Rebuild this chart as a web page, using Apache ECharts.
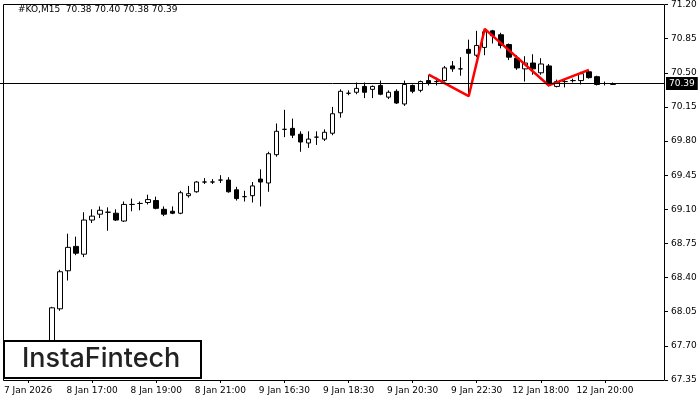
<!DOCTYPE html>
<html><head><meta charset="utf-8">
<script src="https://cdn.jsdelivr.net/npm/echarts@6/dist/echarts.min.js"></script>
<style>html,body{margin:0;padding:0;background:#fff}#c{width:700px;height:400px}</style>
</head><body><div id="c"></div>
<script>
const lead = 6, trail = 6;
// [open, close, low, high]
const candles = [
[67.55,68.09,67.45,68.10],[68.08,68.46,68.06,68.48],[68.47,68.71,68.37,68.85],[68.72,68.65,68.63,68.82],
[68.64,68.99,68.61,69.07],[68.99,69.03,68.96,69.10],[69.05,69.09,69.01,69.13],[69.07,69.07,68.88,69.12],
[69.06,68.99,68.98,69.10],[68.98,69.15,68.97,69.18],[69.15,69.15,69.08,69.21],[69.16,69.16,69.09,69.18],
[69.17,69.20,69.15,69.25],[69.19,69.11,69.10,69.23],[69.10,69.05,69.03,69.13],[69.08,69.06,69.05,69.13],
[69.06,69.27,69.05,69.29],[69.24,69.26,69.22,69.34],[69.28,69.38,69.27,69.39],[69.38,69.38,69.36,69.42],
[69.38,69.38,69.36,69.41],[69.40,69.40,69.37,69.45],[69.40,69.28,69.27,69.43],[69.30,69.21,69.19,69.33],
[69.23,69.23,69.18,69.29],[69.24,69.34,69.17,69.38],[69.41,69.38,69.13,69.51],[69.37,69.67,69.28,69.69],
[69.66,69.90,69.64,69.98],[69.92,69.92,69.84,70.12],[69.93,69.86,69.83,70.03],[69.87,69.79,69.69,69.90],
[69.78,69.82,69.73,69.90],[69.84,69.84,69.76,69.90],[69.82,69.89,69.80,69.92],[69.88,70.08,69.86,70.15],
[70.09,70.31,70.04,70.33],[70.29,70.29,70.27,70.32],[70.30,70.34,70.28,70.40],[70.36,70.30,70.24,70.40],
[70.33,70.36,70.24,70.37],[70.37,70.28,70.27,70.42],[70.25,70.30,70.23,70.32],[70.31,70.19,70.18,70.33],
[70.18,70.38,70.16,70.42],[70.37,70.31,70.29,70.38],[70.32,70.41,70.30,70.42],[70.42,70.39,70.37,70.48],
[70.41,70.41,70.37,70.45],[70.42,70.55,70.41,70.57],[70.57,70.54,70.51,70.62],[70.54,70.54,70.47,70.66],
[70.74,70.70,70.26,70.84],[70.68,70.78,70.66,70.93],[70.76,70.92,70.68,70.93],[70.93,70.88,70.80,70.94],
[70.89,70.78,70.75,70.91],[70.79,70.66,70.63,70.80],[70.65,70.55,70.53,70.68],[70.54,70.60,70.41,70.67],
[70.60,70.54,70.48,70.69],[70.50,70.59,70.48,70.65],[70.57,70.38,70.36,70.59],[70.36,70.41,70.35,70.43],
[70.41,70.41,70.35,70.44],[70.42,70.42,70.40,70.44],[70.42,70.49,70.38,70.51],[70.51,70.45,70.44,70.53],
[70.46,70.38,70.37,70.47],[70.39,70.39,70.37,70.41],[70.38,70.39,70.38,70.40]];
// pattern points: [candle index, price]
const pattern = [[47,70.48],[52,70.26],[54,70.95],[62,70.37],[67,70.53]];
const timeLabels = {"-3":"7 Jan 2026","5":"8 Jan 17:00","13":"8 Jan 19:00","21":"8 Jan 21:00","29":"9 Jan 16:30",
 "37":"9 Jan 18:30","45":"9 Jan 20:30","53":"9 Jan 22:30","61":"12 Jan 18:00","69":"12 Jan 20:00"};
const yTicks = [67.35,67.70,68.05,68.40,68.75,69.10,69.45,69.80,70.15,70.50,70.85,71.20];
const lastPrice = 70.39;

const n = lead + candles.length + trail;
const cats = [], cdata = [], pdata = [];
for (let k = 0; k < n; k++) { cats.push(String(k - lead)); cdata.push('-'); pdata.push('-'); }
candles.forEach((c, i) => cdata[i + lead] = c);
pattern.forEach(p => pdata[p[0] + lead] = p[1]);

const chart = echarts.init(document.getElementById('c'));
chart.setOption({
  animation: false,
  grid: {left: 0, right: 35, top: 4, bottom: 20, show: false},
  xAxis: {type: 'category', data: cats, boundaryGap: true,
    axisLine: {show: false},
    axisTick: {show: true, interval: (i) => timeLabels[cats[i]] !== undefined, length: 3, lineStyle: {color: '#000'}, alignWithLabel: true},
    axisLabel: {interval: 0, fontFamily: 'DejaVu Sans', fontSize: 9, color: '#000', margin: 6,
      formatter: (v) => timeLabels[v] || ''},
    splitLine: {show: false}},
  yAxis: {type: 'value', position: 'right', min: 67.35, max: 71.20, scale: true,
    axisLine: {show: false}, axisTick: {show: true, length: 3, customValues: yTicks, lineStyle: {color: '#000'}},
    axisLabel: {customValues: yTicks, fontFamily: 'DejaVu Sans', fontSize: 9, color: '#000', margin: 6,
      formatter: (v) => v.toFixed(2)},
    splitLine: {show: false}},
  series: [{
    type: 'candlestick', data: cdata, barWidth: 5,
    itemStyle: {color: '#fff', color0: '#000', borderColor: '#000', borderColor0: '#000', borderWidth: 1},
    markLine: {symbol: 'none', silent: true, lineStyle: {color: '#000', width: 1, type: 'solid'},
      label: {position: 'end', formatter: lastPrice.toFixed(2), backgroundColor: '#000', color: '#fff',
        fontFamily: 'DejaVu Sans', fontSize: 9, padding: [2, 3], distance: 1},
      data: [{yAxis: lastPrice}]}
  }, {
    type: 'line', data: pdata, connectNulls: true, symbol: 'none',
    lineStyle: {color: '#ff0000', width: 2.5}
  }],
  graphic: [
    {type: 'rect', shape: {x: 3.5, y: 4.5, width: 661, height: 376}, style: {fill: 'none', stroke: '#000', lineWidth: 1}, z: 0},
    {type: 'text', left: 18, top: 5, style: {text: '#KO,M15  70.38 70.40 70.38 70.39', fontFamily: 'DejaVu Sans', fontSize: 9, fill: '#000'}},
    {type: 'rect', shape: {x: 4, y: 341, width: 197, height: 37}, style: {fill: '#fff', stroke: '#000', lineWidth: 2}, z: 10},
    {type: 'text', x: 22, y: 345, z: 11, style: {text: 'InstaFintech', fontFamily: 'Inter', fontWeight: 500, fontSize: 27, fill: '#222'}}
  ]
});
</script></body></html>
